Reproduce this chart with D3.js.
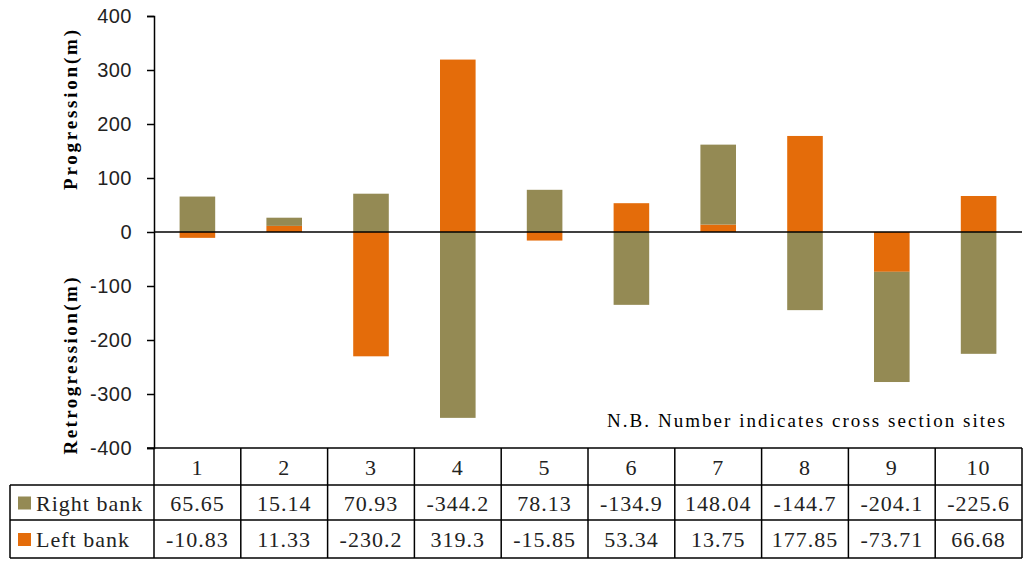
<!DOCTYPE html>
<meta charset="utf-8">
<title>Bank line shift</title>
<style>
  body { margin: 0; background: #fff; }
  svg { display: block; }
  .serif { font-family: "Liberation Serif", "Times New Roman", serif; }
  .sans { font-family: "Liberation Sans", Arial, sans-serif; }
</style>
<svg id="chart" width="1028" height="561"></svg>
<script src="https://cdn.jsdelivr.net/npm/d3@7"></script>
<script>
// data
var sites = ["1", "2", "3", "4", "5", "6", "7", "8", "9", "10"];
var rightBank = [65.65, 15.14, 70.93, -344.2, 78.13, -134.9, 148.04, -144.7, -204.1, -225.6];
var leftBank = [-10.83, 11.33, -230.2, 319.3, -15.85, 53.34, 13.75, 177.85, -73.71, 66.68];
var rightLabels = ["65.65", "15.14", "70.93", "-344.2", "78.13", "-134.9", "148.04", "-144.7", "-204.1", "-225.6"];
var leftLabels = ["-10.83", "11.33", "-230.2", "319.3", "-15.85", "53.34", "13.75", "177.85", "-73.71", "66.68"];
var yTicks = [400, 300, 200, 100, 0, -100, -200, -300, -400];

var olive = "#948a54", orange = "#e46c0a";

var svg = d3.select("#chart");
var plotLeft = 154, plotRight = 1022, plotTop = 16, plotBottom = 448;
var tableLeft = 10, rowH = [37, 35, 38];

var x = d3.scaleBand().domain(sites).range([plotLeft, plotRight]).padding(0);
var y = d3.scaleLinear().domain([-400, 400]).range([plotBottom, plotTop]);

// stacked: left bank is the base series, right bank goes on top
var rows = sites.map(function(s, i) { return {site: s, left: leftBank[i], right: rightBank[i]}; });
var series = d3.stack().keys(["left", "right"]).offset(d3.stackOffsetDiverging)(rows);
var colors = {left: orange, right: olive};

var barW = x.bandwidth() * 0.41;
svg.append("g").selectAll("g")
  .data(series).join("g")
  .attr("fill", function(d) { return colors[d.key]; })
  .selectAll("rect")
  .data(function(d) { return d; }).join("rect")
  .attr("x", function(d) { return x(d.data.site) + (x.bandwidth() - barW) / 2; })
  .attr("width", barW)
  .attr("y", function(d) { return y(Math.max(d[0], d[1])); })
  .attr("height", function(d) { return Math.abs(y(d[0]) - y(d[1])); });

// zero line
svg.append("line")
  .attr("x1", plotLeft).attr("x2", plotRight)
  .attr("y1", y(0)).attr("y2", y(0))
  .attr("stroke", "#000").attr("stroke-width", 1.5);

// y axis (hyphen minus, like the original)
var yAxis = d3.axisLeft(y).tickValues(yTicks).tickSize(7).tickPadding(15)
  .tickFormat(function(d) { return String(d); });
var gy = svg.append("g").attr("transform", "translate(" + plotLeft + ",0)").call(yAxis);
gy.attr("font-family", null).attr("font-size", null);
gy.select(".domain").attr("stroke", "#000").attr("stroke-width", 1.5);
gy.selectAll(".tick line").attr("stroke", "#000").attr("stroke-width", 1.5);
gy.selectAll(".tick text")
  .attr("class", "sans")
  .attr("fill", "#222")
  .attr("font-size", 20)
  .attr("letter-spacing", 0.5);

// axis titles
svg.append("text")
  .attr("class", "serif")
  .attr("transform", "translate(77,110) rotate(-90)")
  .attr("text-anchor", "middle")
  .attr("textLength", 160).attr("lengthAdjust", "spacing")
  .attr("font-weight", "bold").attr("font-size", 19)
  .text("Progression(m)");
svg.append("text")
  .attr("class", "serif")
  .attr("transform", "translate(77,366) rotate(-90)")
  .attr("text-anchor", "middle")
  .attr("textLength", 177).attr("lengthAdjust", "spacing")
  .attr("font-weight", "bold").attr("font-size", 19)
  .text("Retrogression(m)");

// note
svg.append("text")
  .attr("class", "serif")
  .attr("x", 607).attr("y", 427)
  .attr("textLength", 398).attr("lengthAdjust", "spacing")
  .attr("font-size", 19)
  .text("N.B. Number indicates cross section sites");

// data table
var t = svg.append("g").attr("class", "serif");
var r0 = plotBottom, r1 = r0 + rowH[0], r2 = r1 + rowH[1], r3 = r2 + rowH[2];
var lineAttr = function(sel) { return sel.attr("stroke", "#000").attr("stroke-width", 1.5); };
lineAttr(t.append("line").attr("x1", plotLeft - 7).attr("x2", plotRight).attr("y1", r0).attr("y2", r0));
[r1, r2, r3].forEach(function(ry) {
  lineAttr(t.append("line").attr("x1", tableLeft).attr("x2", plotRight).attr("y1", ry).attr("y2", ry));
});
lineAttr(t.append("line").attr("x1", tableLeft).attr("x2", tableLeft).attr("y1", r1).attr("y2", r3));
sites.forEach(function(s) {
  lineAttr(t.append("line").attr("x1", x(s)).attr("x2", x(s)).attr("y1", r0).attr("y2", r3));
});
lineAttr(t.append("line").attr("x1", plotRight).attr("x2", plotRight).attr("y1", r0).attr("y2", r3));

var cellFont = function(sel) {
  return sel.attr("font-size", 22).attr("letter-spacing", 1).attr("fill", "#222");
};
cellFont(t.selectAll(".hdr").data(sites).join("text")
  .attr("x", function(d) { return x(d) + x.bandwidth() / 2; })
  .attr("y", (r0 + r1) / 2 + 8).attr("text-anchor", "middle")
  .text(function(d) { return d; }));
cellFont(t.selectAll(".rb").data(rightLabels).join("text")
  .attr("x", function(d, i) { return x(sites[i]) + x.bandwidth() / 2; })
  .attr("y", (r1 + r2) / 2 + 8).attr("text-anchor", "middle")
  .text(function(d) { return d; }));
cellFont(t.selectAll(".lb").data(leftLabels).join("text")
  .attr("x", function(d, i) { return x(sites[i]) + x.bandwidth() / 2; })
  .attr("y", (r2 + r3) / 2 + 8).attr("text-anchor", "middle")
  .text(function(d) { return d; }));

// legend keys inside table
var keys = [{name: "Right bank", color: olive, top: r1, bottom: r2},
            {name: "Left bank", color: orange, top: r2, bottom: r3}];
keys.forEach(function(k) {
  var cy = (k.top + k.bottom) / 2;
  t.append("rect").attr("x", 18).attr("y", cy - 6).attr("width", 13).attr("height", 13).attr("fill", k.color);
  cellFont(t.append("text").attr("x", 36).attr("y", cy + 8).text(k.name)).attr("letter-spacing", 1);
});
</script>
